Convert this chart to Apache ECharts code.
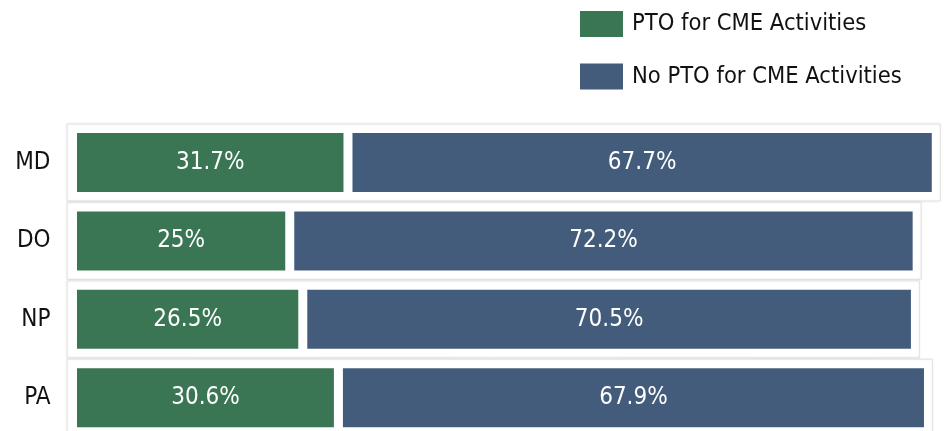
<!DOCTYPE html>
<html>
<head>
<meta charset="utf-8">
<script src="https://cdn.jsdelivr.net/npm/echarts@6/dist/echarts.min.js"></script>
<style>
  html, body { margin: 0; padding: 0; background: #fff; overflow: hidden; }
  /* a bit taller than the window so the last band can run past the bottom edge */
  #chart { width: 944px; height: 440px; }
</style>
</head>
<body>
<div id="chart"></div>
<script>
  const categories = ['MD', 'DO', 'NP', 'PA']
  const ptoValues = [31.7, 25, 26.5, 30.6]
  const noPtoValues = [67.7, 72.2, 70.5, 67.9]
  const seriesNames = ['PTO for CME Activities', 'No PTO for CME Activities']

  const FONT = '"Liberation Sans Narrow", "DejaVu Sans Condensed", sans-serif'
  const totals = categories.map((c, i) => [i, ptoValues[i] + noPtoValues[i]])

  const chart = echarts.init(document.getElementById('chart'))
  chart.setOption({
    animation: false,
    legend: {
      orient: 'vertical',
      left: 573,
      top: 4,
      itemWidth: 45,
      itemHeight: 28,
      itemGap: 22.5,
      icon: 'rect',
      data: seriesNames,
      textStyle: { fontSize: 23.5, lineHeight: 28, color: '#111', fontFamily: FONT, padding: [0, 0, 0, 3] },
    },
    grid: { left: 72.5, width: 869, top: 123.3, height: 313.6 },
    xAxis: { type: 'value', min: 0, max: 100, show: false },
    yAxis: {
      type: 'category',
      data: categories,
      inverse: true,
      axisLine: { show: false },
      axisTick: { show: false },
      axisLabel: { fontSize: 24, color: '#111', fontFamily: FONT, margin: 22 },
    },
    series: [
      {
        // light frame behind each bar
        type: 'custom',
        silent: true,
        z: 1,
        data: totals,
        renderItem: (params, api) => {
          const start = api.coord([0, api.value(0)])
          const end = api.coord([api.value(1), api.value(0)])
          const h = 77
          return {
            type: 'rect',
            shape: { x: start[0] - 5.5, y: start[1] - h / 2, width: end[0] - start[0] + 9.5, height: h },
            style: { fill: '#fff', stroke: '#e2e2e2', lineWidth: 1, shadowBlur: 3, shadowColor: 'rgba(0,0,0,0.08)' },
          }
        },
        encode: { x: 1, y: 0 },
      },
      {
        name: seriesNames[0],
        type: 'bar',
        stack: 'total',
        z: 2,
        barWidth: 68,
        data: ptoValues,
        itemStyle: { color: '#3a7653', borderColor: '#fff', borderWidth: 4.5 },
        label: { show: true, position: 'inside', formatter: '{c}%', color: '#fff', fontSize: 24, fontFamily: FONT },
      },
      {
        name: seriesNames[1],
        type: 'bar',
        stack: 'total',
        z: 2,
        barWidth: 68,
        data: noPtoValues,
        itemStyle: { color: '#445c7b', borderColor: '#fff', borderWidth: 4.5 },
        label: { show: true, position: 'inside', formatter: '{c}%', color: '#fff', fontSize: 24, fontFamily: FONT },
      },
    ],
  })
</script>
</body>
</html>
